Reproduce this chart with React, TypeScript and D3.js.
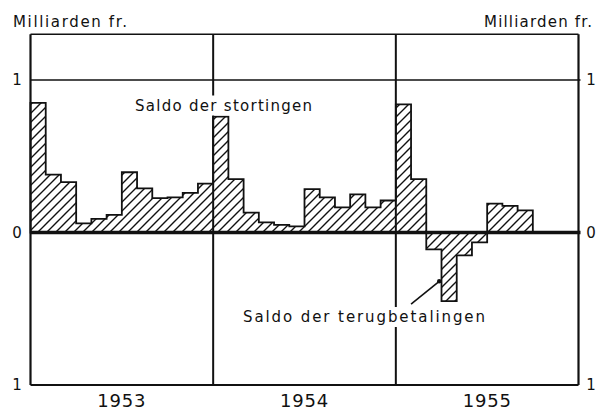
import React, { useEffect, useRef } from "react";
import * as d3 from "d3";

// monthly balance, milliard fr. (positive = deposits, negative = repayments)
const years = ["1953", "1954", "1955"];
const saldo1953 = [0.85, 0.38, 0.33, 0.06, 0.09, 0.115, 0.395, 0.29, 0.225, 0.23, 0.26, 0.32];
const saldo1954 = [0.76, 0.35, 0.13, 0.067, 0.05, 0.04, 0.285, 0.23, 0.165, 0.25, 0.165, 0.21];
const saldo1955 = [0.84, 0.35, -0.11, -0.45, -0.15, -0.065, 0.19, 0.175, 0.145, 0, 0, 0];
const yTicks = [1, 0, -1];
const yTickLabels = ["1", "0", "1"];
const unitLabel = "Milliarden fr.";
const depositLabel = "Saldo der stortingen";
const repaymentLabel = "Saldo der terugbetalingen";

const App: React.FC = () => {
  const svgRef = useRef<SVGSVGElement>(null);

  useEffect(() => {
    const width = 614;
    const height = 413;
    const font = "'DejaVu Sans', sans-serif";
    const ink = "#111";

    const values = [...saldo1953, ...saldo1954, ...saldo1955];
    const months = values.length;

    const x = d3.scaleLinear().domain([0, months]).range([30.5, 578.5]);
    const y = d3.scaleLinear().domain([-1, 1]).range([385, 80]);
    const top = y(1.3);

    const svg = d3.select(svgRef.current).attr("width", width).attr("height", height);
    svg.selectAll("*").remove();

    svg.append("rect").attr("width", width).attr("height", height).attr("fill", "#fff");

    // hatch
    const pattern = svg
      .append("defs")
      .append("pattern")
      .attr("id", "hatch")
      .attr("patternUnits", "userSpaceOnUse")
      .attr("width", 9)
      .attr("height", 9);
    pattern
      .append("path")
      .attr("d", "M0,9 L9,0 M-1,1 L1,-1 M8,10 L10,8")
      .attr("stroke", ink)
      .attr("stroke-width", 1.4);

    // frame and grid
    const frame = svg.append("g").attr("stroke", ink).attr("fill", "none");
    frame.append("line").attr("x1", x(0)).attr("x2", x(months)).attr("y1", top).attr("y2", top).attr("stroke-width", 1.6);
    frame.append("line").attr("x1", x(0)).attr("x2", x(months)).attr("y1", y(-1)).attr("y2", y(-1)).attr("stroke-width", 2);
    frame.append("line").attr("x1", x(0)).attr("x2", x(months) + 2).attr("y1", y(1)).attr("y2", y(1)).attr("stroke-width", 1.5);
    [0, months].forEach(m =>
      frame.append("line").attr("x1", x(m)).attr("x2", x(m)).attr("y1", top).attr("y2", y(-1)).attr("stroke-width", 2.2)
    );
    [12, 24].forEach(m =>
      frame.append("line").attr("x1", x(m)).attr("x2", x(m)).attr("y1", top).attr("y2", y(-1)).attr("stroke-width", 2)
    );

    // step bars
    const area = d3
      .area<number>()
      .x((d, i) => x(i))
      .y0(y(0))
      .y1(d => y(d))
      .curve(d3.curveStepAfter);

    svg
      .append("path")
      .datum([...values, values[values.length - 1]])
      .attr("d", area)
      .attr("fill", "url(#hatch)")
      .attr("stroke", ink)
      .attr("stroke-width", 1.8)
      .attr("stroke-linejoin", "miter");

    // zero line
    svg
      .append("line")
      .attr("x1", x(0))
      .attr("x2", x(months) + 2)
      .attr("y1", y(0))
      .attr("y2", y(0))
      .attr("stroke", ink)
      .attr("stroke-width", 3.5);

    // tick labels both sides
    const ticks = svg.append("g").style("font-family", font).style("font-size", "15px").attr("fill", ink);
    yTicks.forEach((t, i) => {
      ticks.append("text").attr("x", 17).attr("y", y(t)).attr("text-anchor", "middle").attr("dominant-baseline", "central").text(yTickLabels[i]);
      ticks.append("text").attr("x", 591).attr("y", y(t)).attr("text-anchor", "middle").attr("dominant-baseline", "central").text(yTickLabels[i]);
    });

    // unit labels
    const units = svg.append("g").style("font-family", font).style("font-size", "15px").attr("fill", ink);
    units.append("text").attr("x", 13).attr("y", 27).attr("textLength", 114).attr("lengthAdjust", "spacing").text(unitLabel);
    units.append("text").attr("x", 484).attr("y", 27).attr("textLength", 108).attr("lengthAdjust", "spacing").text(unitLabel);

    // year labels
    svg
      .append("g")
      .selectAll("text")
      .data(years)
      .enter()
      .append("text")
      .attr("x", (d, i) => x(i * 12 + 6))
      .attr("y", 407)
      .attr("text-anchor", "middle")
      .style("font-family", font)
      .style("font-size", "18px")
      .attr("fill", ink)
      .attr("letter-spacing", 0.8)
      .text(d => d);

    // annotations with white knock-out behind
    const annotate = (label: string, mx: number, v: number, len: number) => {
      const g = svg.append("g");
      const bg = g.append("rect").attr("fill", "#fff");
      const t = g
        .append("text")
        .attr("x", x(mx))
        .attr("y", y(v))
        .attr("textLength", len)
        .attr("lengthAdjust", "spacing")
        .style("font-family", font)
        .style("font-size", "15px")
        .attr("fill", ink)
        .text(label);
      const b = (t.node() as SVGTextElement).getBBox();
      bg.attr("x", b.x - 3).attr("y", b.y - 1).attr("width", b.width + 6).attr("height", b.height + 2);
    };
    annotate(depositLabel, 6.87, 0.8, 177);
    annotate(repaymentLabel, 13.96, -0.587, 242);

    // arrow to repayments
    svg
      .append("line")
      .attr("x1", x(25))
      .attr("y1", y(-0.47))
      .attr("x2", x(26.85))
      .attr("y2", y(-0.32))
      .attr("stroke", ink)
      .attr("stroke-width", 1.6);
    svg.append("circle").attr("cx", x(26.85)).attr("cy", y(-0.32)).attr("r", 2.2).attr("fill", ink);
  }, []);

  return (
    <div>
      <svg ref={svgRef} style={{ position: "absolute", left: 0, top: 0 }}></svg>
    </div>
  );
};

export default App;
